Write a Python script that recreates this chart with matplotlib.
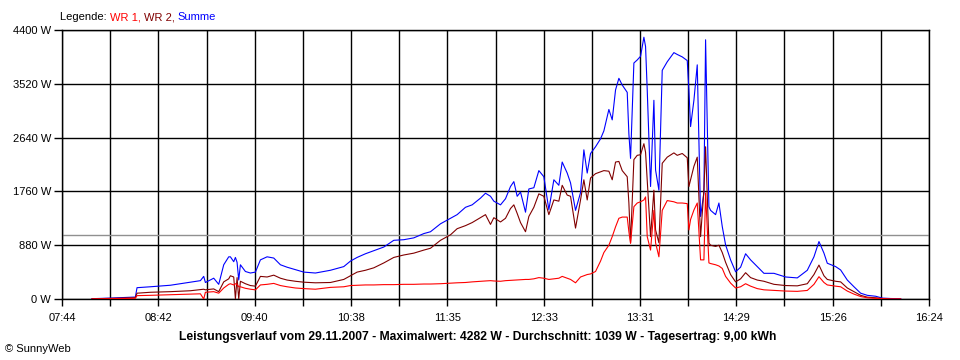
import matplotlib
matplotlib.use("Agg")
import matplotlib.pyplot as plt
from matplotlib.offsetbox import TextArea, HPacker, AnchoredOffsetbox

plt.rcParams["font.family"] = ["Liberation Sans", "DejaVu Sans"]

# Leistungsverlauf 29.11.2007 (SunnyWeb), Werte in W
zeit = ["08:02", "08:13", "08:27", "08:28", "08:29", "08:37", "08:49", "09:01",
        "09:07", "09:09", "09:10", "09:15", "09:18", "09:21", "09:24", "09:25",
        "09:27", "09:28", "09:29", "09:30", "09:31", "09:34", "09:37", "09:40",
        "09:43", "09:47", "09:51", "09:55", "09:59", "10:04", "10:09", "10:16",
        "10:25", "10:33", "10:37", "10:41", "10:46", "10:51", "10:57", "11:03",
        "11:09", "11:15", "11:21", "11:25", "11:31", "11:37", "11:41", "11:46",
        "11:50", "11:55", "11:58", "12:01", "12:03", "12:07", "12:10", "12:13",
        "12:15", "12:17", "12:19", "12:22", "12:24", "12:27", "12:30", "12:33",
        "12:36", "12:39", "12:42", "12:44", "12:47", "12:49", "12:52", "12:55",
        "12:57", "12:59", "13:01", "13:04", "13:07", "13:09", "13:12", "13:14",
        "13:16", "13:18", "13:20", "13:23", "13:24", "13:25", "13:27", "13:29",
        "13:31", "13:33", "13:34", "13:35", "13:37", "13:39", "13:40", "13:42",
        "13:44", "13:47", "13:51", "13:53", "13:56", "13:59", "14:00", "14:01",
        "14:03", "14:05", "14:07", "14:09", "14:10", "14:12", "14:13", "14:16",
        "14:18", "14:20", "14:22", "14:25", "14:28", "14:31", "14:34", "14:37",
        "14:41", "14:45", "14:51", "14:58", "15:05", "15:11", "15:15", "15:18",
        "15:21", "15:23", "15:28", "15:31", "15:35", "15:39", "15:43", "15:47",
        "15:52", "15:56", "16:01", "16:07"]

wr1 = [0, 5, 10, 12, 55, 60, 70, 80,
       85, 0, 110, 120, 95, 180, 240, 250,
       230, 250, 240, 200, 200, 175, 160, 150,
       230, 240, 255, 220, 200, 180, 170, 160,
       190, 200, 220, 225, 230, 230, 235, 235,
       240, 240, 245, 245, 250, 260, 265, 270,
       280, 290, 295, 300, 295, 290, 300, 305,
       310, 310, 315, 320, 320, 330, 350, 340,
       320, 330, 340, 370, 340, 320, 265, 360,
       380, 400, 410, 450, 620, 760, 880, 1020,
       1180, 1320, 1340, 1340, 1100, 910, 1510, 1570,
       1590, 1620, 1670, 1020, 800, 1450, 920, 690,
       1450, 1610, 1590, 1570, 1570, 1560, 1130, 1300,
       1455, 1570, 640, 640, 1735, 590, 580, 560,
       540, 500, 370, 260, 180, 200, 250, 210,
       170, 150, 140, 130, 125, 140, 240, 365,
       270, 230, 210, 200, 130, 80, 40, 20,
       10, 5, 0, 0]

wr2 = [3, 10, 18, 20, 95, 110, 120, 135,
       155, 160, 150, 165, 120, 280, 330, 380,
       360, 0, 350, 0, 290, 250, 220, 210,
       370, 360, 390, 340, 310, 290, 275, 265,
       270, 320, 380, 440, 470, 510, 590, 680,
       720, 750, 800, 830, 960, 1050, 1150, 1200,
       1250, 1330, 1380, 1220, 1330, 1260, 1320, 1480,
       1540, 1400, 1250, 1100, 1350, 1500, 1720, 1680,
       1380, 1620, 1600, 1860, 1700, 1680, 1160, 1620,
       1950, 1620, 1980, 2050, 2080, 2100, 2090, 1950,
       2240, 2250, 2100, 2000, 1570, 920, 2280, 2350,
       2360, 2540, 2400, 1950, 1020, 1780, 1130, 920,
       2220, 2320, 2390, 2350, 2380, 2310, 1840, 1950,
       2170, 2320, 1020, 1780, 2490, 915, 880, 860,
       880, 760, 600, 400, 280, 330, 430, 350,
       310, 290, 240, 220, 215, 250, 400, 555,
       380, 320, 290, 280, 180, 120, 60, 30,
       20, 8, 0, 0]

summe = [5, 15, 30, 32, 185, 200, 225, 275,
         300, 370, 270, 340, 240, 560, 690, 690,
         610, 680, 600, 310, 560, 450, 425, 440,
         640, 690, 670, 560, 520, 480, 440, 425,
         470, 530, 620, 680, 740, 790, 850, 960,
         970, 1000, 1070, 1100, 1230, 1320, 1380, 1500,
         1540, 1650, 1730, 1680, 1600, 1540, 1640, 1840,
         1920, 1680, 1750, 1420, 1800, 1820, 2100, 2000,
         1460, 1950, 1860, 2240, 2060, 1900, 1450, 1740,
         2440, 2060, 2380, 2490, 2620, 2750, 3100, 2930,
         3420, 3610, 3500, 3380, 2700, 2300, 3860, 3910,
         3970, 4282, 4130, 3420, 1840, 3250, 2110, 1780,
         3740, 3880, 4030, 4000, 3960, 3900, 3420, 2820,
         3250, 3830, 1350, 1740, 4240, 1510, 1450, 1380,
         1570, 1185, 885, 640, 445, 520, 740, 640,
         530, 420, 420, 360, 345, 470, 690, 940,
         750, 585, 530, 475, 310, 200, 95, 60,
         45, 15, 8, 5]

durchschnitt = 1039
x_labels = ["07:44", "08:42", "09:40", "10:38", "11:35", "12:33", "13:31", "14:29", "15:26", "16:24"]
y_ticks = [0, 880, 1760, 2640, 3520, 4400]


def to_min(s):
    h, m = s.split(":")
    return int(h) * 60 + int(m)


t = [to_min(s) for s in zeit]
t0, t1 = to_min("07:44"), to_min("16:24")

fig = plt.figure(figsize=(9.6, 3.6), dpi=100)
ax = fig.add_axes([62 / 960, 1 - 299 / 360, 867 / 960, 269 / 360])

step = (t1 - t0) / 18
grid_x = [t0 + i * step for i in range(19)]
for gx in grid_x:
    ax.axvline(gx, color="black", lw=1, zorder=1)
for gy in y_ticks:
    ax.axhline(gy, color="black", lw=1, zorder=1)
ax.axhline(durchschnitt, color="#909090", lw=1, zorder=1)

ax.plot(t, summe, color="#0000ff", lw=0.8, zorder=3)
ax.plot(t, wr2, color="#800000", lw=0.8, zorder=4)
ax.plot(t, wr1, color="#ff0000", lw=0.8, zorder=5)

ax.set_xlim(t0, t1)
ax.set_ylim(0, 4400)
ax.set_xticks(grid_x)
ax.set_xticklabels([x_labels[i // 2] if i % 2 == 0 else "" for i in range(19)])
ax.set_yticks(y_ticks)
ax.set_yticklabels(["%d W" % v for v in y_ticks])
ax.tick_params(axis="x", length=5, width=1, pad=5, labelsize=8)
ax.tick_params(axis="y", length=6, width=1, pad=2, labelsize=8)
for sp in ax.spines.values():
    sp.set_linewidth(1)

# Legende oben links, farbiger Text
parts = [("Legende: ", "black"), ("WR 1, ", "#ff0000"), ("WR 2, ", "#800000"), ("Summe", "#0000ff")]
boxes = [TextArea(s, textprops=dict(color=c, fontsize=8)) for s, c in parts]
leg = AnchoredOffsetbox(loc="lower left", child=HPacker(children=boxes, pad=0, sep=0),
                        frameon=False, bbox_to_anchor=(60 / 960, 1 - 22 / 360),
                        bbox_transform=fig.transFigure, borderpad=0, pad=0)
fig.add_artist(leg)

fig.text(478 / 960, 1 - 337 / 360,
         "Leistungsverlauf vom 29.11.2007 - Maximalwert: 4282 W - Durchschnitt: 1039 W - Tagesertrag: 9,00 kWh",
         ha="center", va="center", fontsize=8.7, fontweight="bold")
fig.text(5 / 960, 1 - 349 / 360, "© SunnyWeb", ha="left", va="center", fontsize=8)

fig.savefig("out.png", dpi=100, facecolor="white")
